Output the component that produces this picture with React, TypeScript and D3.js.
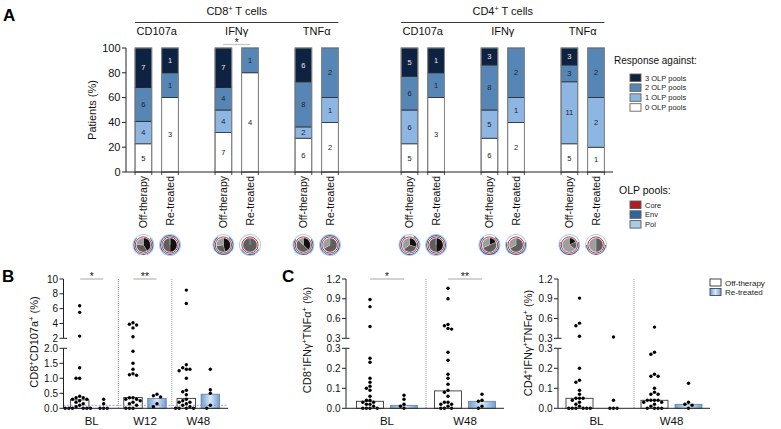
import React from "react";
import * as d3 from "d3";

const FONT = "'Liberation Sans', Arial, Helvetica, sans-serif";

// ---------- Panel A data ----------
const cellTypes = ["CD8^+ T cells", "CD4^+ T cells"];
const markers = ["CD107a", "IFNγ", "TNFα"];
const conditions = ["Off-therapy", "Re-treated"];
const poolLegend = ["3 OLP pools", "2 OLP pools", "1 OLP pools", "0 OLP pools"];
// colour per number of pools: index 0..3 pools
const poolColors = ["#ffffff", "#8db6e2", "#5686b6", "#0e2341"];
// counts per bar: [0 pools, 1 pool, 2 pools, 3 pools]; order marker x condition
const cd8Counts = [
  [5, 4, 6, 7], [3, 0, 1, 1],
  [7, 4, 4, 7], [4, 0, 1, 0],
  [6, 2, 8, 6], [2, 1, 2, 0],
];
const cd4Counts = [
  [5, 6, 6, 5], [3, 0, 1, 1],
  [6, 5, 8, 3], [2, 1, 2, 0],
  [5, 11, 3, 3], [1, 2, 2, 0],
];
const yTicksA = [0, 20, 40, 60, 80, 100];
const pieColors = ["#111111", "#5e5e5e", "#9d9d9d"]; // 3, 2, 1 pools
const olpPools = ["Core", "Env", "Pol"];
const olpColors = ["#b01c22", "#2f64a0", "#a9cbe8"];
// fraction of ring covered (Env, Pol) per pie
const cd8EnvArc = [0.75, 1, 0.8, 0.35, 0.7, 1];
const cd8PolArc = [0.9, 1, 0.7, 1, 0.8, 1];
const cd4EnvArc = [0.85, 1, 0.8, 0.6, 0.6, 0.5];
const cd4PolArc = [1, 1, 0.9, 0.8, 0.7, 0.6];

// ---------- Panel B data ----------
const timepointsB = ["BL", "W12", "W48"];
const bOffDots = [
  [6.4, 5.5, 2.3, 1.35, 1.0, 1.0, 0.4, 0.35, 0.35, 0.3, 0.3, 0.25, 0.2, 0.15, 0.1, 0.05, 0, 0, 0, 0, 0, 0],
  [4.1, 3.9, 3.8, 3.4, 2.2, 1.9, 1.5, 1.3, 1.15, 1.12, 1.1, 0.35, 0.35, 0.3, 0.3, 0.25, 0.2, 0.15, 0.1, 0, 0, 0],
  [8.5, 6.7, 1.45, 1.35, 1.3, 1.3, 1.25, 1.0, 0.6, 0.55, 0.45, 0.3, 0.25, 0.2, 0.2, 0.15, 0.1, 0.05, 0, 0, 0, 0],
];
const bReDots = [
  [0.3, 0.15, 0, 0, 0],
  [0.47, 0.42, 0.38, 0.15, 0.05],
  [1.3, 0.62, 0.5, 0.1, 0],
];
const bOffBars = [0.28, 0.36, 0.33];
const bReBars = [0, 0.33, 0.47];
const bLowerTicks = [0, 0.5, 1.0, 1.5, 2.0];
const bUpperTicks = [2, 4, 6, 8, 10];

// ---------- Panel C data ----------
const timepointsC = ["BL", "W48"];
const cd8OffDots = [
  [0.89, 0.78, 0.48, 0.25, 0.23, 0.15, 0.13, 0.11, 0.1, 0.09, 0.06, 0.04, 0.04, 0.03, 0.03, 0.02, 0.02, 0.01, 0, 0, 0, 0],
  [1.06, 0.9, 0.51, 0.49, 0.45, 0.44, 0.28, 0.24, 0.17, 0.15, 0.12, 0.09, 0.08, 0.06, 0.03, 0.03, 0.02, 0.02, 0.01, 0, 0, 0],
];
const cd8ReDots = [
  [0.065, 0.045, 0.02, 0.01, 0],
  [0.07, 0.04, 0.035, 0.01, 0],
];
const cd8OffBars = [0.035, 0.087];
const cd8ReBars = [0.015, 0.035];
const cd4OffDots = [
  [0.91, 0.53, 0.49, 0.33, 0.2, 0.14, 0.13, 0.09, 0.07, 0.05, 0.05, 0.05, 0.04, 0.03, 0.02, 0.01, 0, 0, 0, 0, 0, 0],
  [0.47, 0.28, 0.27, 0.17, 0.16, 0.16, 0.1, 0.08, 0.07, 0.07, 0.04, 0.04, 0.04, 0.04, 0.03, 0.03, 0.02, 0.01, 0, 0, 0, 0],
];
const cd4ReDots = [
  [0.32, 0.04, 0, 0, 0],
  [0.125, 0.03, 0.02, 0.015, 0],
];
const cd4OffBars = [0.05, 0.04];
const cd4ReBars = [0, 0.02];
const cLowerTicks = [0, 0.1, 0.2, 0.3];
const cUpperTicks = [0.3, 0.6, 0.9, 1.2];

// ---------- helpers ----------
function SupText({ s, sup = 7, shift = 4 }: { s: string; sup?: number; shift?: number }) {
  const parts = s.split("^+");
  const nodes: React.ReactNode[] = [];
  parts.forEach((p, i) => {
    if (p.length) nodes.push(<tspan key={"p" + i} dy={i > 0 ? shift : 0}>{p}</tspan>);
    if (i < parts.length - 1)
      nodes.push(
        <tspan key={"s" + i} dy={i > 0 && !p.length ? 0 : -shift} fontSize={sup}>+</tspan>
      );
  });
  return <>{nodes}</>;
}

function layoutDots(vals: number[], y: (v: number) => number, cx: number) {
  const placed: { x: number; y: number }[] = [];
  const sorted = [...vals].sort((a, b) => b - a);
  const step = 3.6;
  sorted.forEach((v) => {
    const py = y(v);
    let k = 0;
    for (;;) {
      const m = Math.ceil(k / 2);
      const off = k === 0 ? 0 : (k % 2 === 1 ? -m : m) * step;
      const px = cx + off;
      const hit = placed.some((p) => Math.abs(p.y - py) < 3.3 && Math.abs(p.x - px) < 3.3);
      if (!hit || k > 14) {
        placed.push({ x: px, y: py });
        break;
      }
      k++;
    }
  });
  return placed;
}

function brokenScale(brk: number, max: number) {
  const lo = d3.scaleLinear().domain([0, brk]).range([408.3, 348.3]);
  const hi = d3.scaleLinear().domain([brk, max]).range([338.3, 279]);
  const f = (v: number) => (v <= brk ? lo(v) : hi(v));
  return { f, lo, hi };
}

type DotPanelProps = {
  axisX: number;
  xRange: [number, number];
  axisEnd: number;
  cats: string[];
  offDots: number[][];
  reDots: number[][];
  offBars: number[];
  reBars: number[];
  barW: number;
  off: number;
  brk: number;
  max: number;
  lowerTicks: number[];
  upperTicks: number[];
  lowerFmt: string;
  upperFmt: string;
  yLabel: string;
  yLabelX: number;
  yLabelY: number;
  sepStyles: { stroke: string; width: number }[];
  sig: { cat: string; text: string; half: number }[];
  dashedAt?: number;
};

function DotPanel(p: DotPanelProps) {
  const { f, lo, hi } = brokenScale(p.brk, p.max);
  const x = d3.scaleBand().domain(p.cats).range(p.xRange);
  const cx = (c: string) => (x(c) as number) + x.bandwidth() / 2;
  const baseY = lo(0);
  const lf = d3.format(p.lowerFmt);
  const uf = d3.format(p.upperFmt);
  return (
    <g fontFamily={FONT}>
      {/* separators */}
      {p.cats.slice(1).map((c, i) => (
        <line key={"sep" + i} x1={x(c) as number} x2={x(c) as number} y1={hi(p.max)} y2={baseY}
          stroke={p.sepStyles[i].stroke} strokeWidth={p.sepStyles[i].width} strokeDasharray="1,1" />
      ))}
      {/* bars */}
      {p.cats.map((c, i) => (
        <g key={"bars" + c}>
          {p.offBars[i] > 0 && (
            <rect x={cx(c) - p.off - p.barW / 2} y={f(p.offBars[i])} width={p.barW}
              height={baseY - f(p.offBars[i])} fill="#fff" stroke="#3a3a3a" strokeWidth={0.9} />
          )}
          {p.reBars[i] > 0 && (
            <rect x={cx(c) + p.off - p.barW / 2} y={f(p.reBars[i])} width={p.barW}
              height={baseY - f(p.reBars[i])} fill="url(#reGrad)" stroke="#6d7f94" strokeWidth={0.8} />
          )}
        </g>
      ))}
      {p.dashedAt !== undefined && (
        <line x1={p.axisX} x2={p.axisEnd} y1={f(p.dashedAt)} y2={f(p.dashedAt)}
          stroke="#8a8ad2" strokeWidth={0.8} strokeDasharray="2,1.5" />
      )}
      {/* dots */}
      {p.cats.map((c, i) => (
        <g key={"dots" + c}>
          {layoutDots(p.offDots[i], f, cx(c) - p.off).map((d, j) => (
            <circle key={"o" + j} cx={d.x} cy={d.y} r={1.7} fill="#000" />
          ))}
          {layoutDots(p.reDots[i], f, cx(c) + p.off).map((d, j) => (
            <circle key={"r" + j} cx={d.x} cy={d.y} r={1.7} fill="#000" />
          ))}
        </g>
      ))}
      {/* x axis */}
      <line x1={p.axisX} x2={p.axisEnd} y1={baseY} y2={baseY} stroke="#222" strokeWidth={1} />
      {p.cats.map((c) => (
        <text key={"xl" + c} x={cx(c)} y={425} fontSize={11.5} textAnchor="middle" fill="#111">{c}</text>
      ))}
      {/* y axis lower */}
      <line x1={p.axisX} x2={p.axisX} y1={baseY} y2={lo(p.brk)} stroke="#222" strokeWidth={1} />
      <line x1={p.axisX} x2={p.axisX + 3.5} y1={lo(p.brk)} y2={lo(p.brk)} stroke="#222" strokeWidth={1} />
      {p.lowerTicks.map((t) => (
        <g key={"lt" + t}>
          <line x1={p.axisX - 4} x2={p.axisX} y1={lo(t)} y2={lo(t)} stroke="#222" strokeWidth={1} />
          <text x={p.axisX - 5.5} y={lo(t) + 3.6} fontSize={10} textAnchor="end" fill="#111">{lf(t)}</text>
        </g>
      ))}
      {/* y axis upper */}
      <line x1={p.axisX} x2={p.axisX} y1={hi(p.brk)} y2={hi(p.max)} stroke="#222" strokeWidth={1} />
      <line x1={p.axisX} x2={p.axisX + 3.5} y1={hi(p.brk)} y2={hi(p.brk)} stroke="#222" strokeWidth={1} />
      {p.upperTicks.map((t) => (
        <g key={"ut" + t}>
          <line x1={p.axisX - 4} x2={p.axisX} y1={hi(t)} y2={hi(t)} stroke="#222" strokeWidth={1} />
          <text x={p.axisX - 5.5} y={hi(t) + 3.6} fontSize={10} textAnchor="end" fill="#111">{uf(t)}</text>
        </g>
      ))}
      <text transform={`translate(${p.yLabelX},${p.yLabelY}) rotate(-90)`} fontSize={11} textAnchor="middle" fill="#111">
        <SupText s={p.yLabel} sup={7.5} shift={4} />
      </text>
      {/* significance */}
      {p.sig.map((s) => (
        <g key={"sig" + s.cat}>
          <line x1={cx(s.cat) - s.half} x2={cx(s.cat) + s.half} y1={279} y2={279} stroke="#c4c4c4" strokeWidth={1.5} />
          <text x={cx(s.cat)} y={279.5} fontSize={10} textAnchor="middle" fill="#111">{s.text}</text>
        </g>
      ))}
    </g>
  );
}

export default function App() {
  // ---- Panel A scales ----
  const yA = d3.scaleLinear().domain([0, 100]).range([172, 48]);
  const groupScales = [
    d3.scalePoint().domain(markers).range([156.7, 316.7]),
    d3.scalePoint().domain(markers).range([422.8, 582.7]),
  ];
  const condOff = d3.scalePoint().domain(conditions).range([-13.3, 13.3]);
  const barWA = 16.7;
  const countsByCell = [cd8Counts, cd4Counts];
  const envByCell = [cd8EnvArc, cd4EnvArc];
  const polByCell = [cd8PolArc, cd4PolArc];
  const pie = d3.pie<number>().sort(null).value((d) => d);
  const pieArc = d3.arc<d3.PieArcDatum<number>>().innerRadius(0).outerRadius(7);
  const ringArc = d3.arc<any>();
  const pieY = 245;

  const bars: React.ReactNode[] = [];
  const xlabels: React.ReactNode[] = [];
  const pies: React.ReactNode[] = [];
  const axisTicks: React.ReactNode[] = [];

  countsByCell.forEach((counts, ci) => {
    markers.forEach((m, mi) => {
      conditions.forEach((cond, ki) => {
        const idx = mi * 2 + ki;
        const c = counts[idx];
        const total = d3.sum(c);
        const bx = (groupScales[ci](m) as number) + (condOff(cond) as number);
        let cum = 0;
        const segs: React.ReactNode[] = [];
        c.forEach((n, k) => {
          if (n === 0) return;
          const y0 = yA((cum / total) * 100);
          cum += n;
          const y1 = yA((cum / total) * 100);
          segs.push(
            <g key={k}>
              <rect x={bx - barWA / 2} y={y1} width={barWA} height={y0 - y1}
                fill={poolColors[k]} stroke="#1e1e1e" strokeWidth={0.7} />
              <text x={bx} y={(y0 + y1) / 2 + 2.6} fontSize={7.5} textAnchor="middle"
                fill={k === 3 ? "#e8e8e8" : "#222"}>{n}</text>
            </g>
          );
        });
        bars.push(
          <g key={`bar-${ci}-${idx}`}>
            {segs}
            <rect x={bx - barWA / 2} y={yA(100)} width={barWA} height={yA(0) - yA(100)}
              fill="none" stroke="#8c8c8c" strokeWidth={1} />
          </g>
        );
        axisTicks.push(
          <g key={`tk-${ci}-${idx}`}>
            <line x1={bx - barWA / 2} x2={bx - barWA / 2} y1={172} y2={175} stroke="#222" strokeWidth={0.8} />
            <line x1={bx + barWA / 2} x2={bx + barWA / 2} y1={172} y2={175} stroke="#222" strokeWidth={0.8} />
          </g>
        );
        xlabels.push(
          <text key={`xl-${ci}-${idx}`} transform={`translate(${bx + 3.8},176) rotate(-90)`}
            fontSize={10.5} textAnchor="end" fill="#111">{cond}</text>
        );
        const resp = [c[3], c[2], c[1]];
        const arcs = pie(resp);
        const env = envByCell[ci][idx];
        const pol = polByCell[ci][idx];
        pies.push(
          <g key={`pie-${ci}-${idx}`} transform={`translate(${bx},${pieY})`}>
            <path d={ringArc({ innerRadius: 10.1, outerRadius: 11, startAngle: -Math.PI * pol, endAngle: Math.PI * pol }) as string}
              fill={olpColors[2]} />
            <path d={ringArc({ innerRadius: 9.1, outerRadius: 10, startAngle: Math.PI - Math.PI * env, endAngle: Math.PI + Math.PI * env }) as string}
              fill={olpColors[1]} />
            <circle r={8.4} fill="#fff" />
            <circle r={8.1} fill="none" stroke={olpColors[0]} strokeWidth={0.9} />
            {arcs.map((a, j) => (
              <path key={j} d={pieArc(a) as string} fill={pieColors[j]} stroke="#fff" strokeWidth={0.2} />
            ))}
          </g>
        );
      });
    });
  });

  return (
    <svg width={781} height={429} style={{ position: "absolute", left: 0, top: 0, background: "#fff" }}
      fontFamily={FONT}>
      <defs>
        <linearGradient id="reGrad" x1="0" x2="1" y1="0" y2="0">
          <stop offset="0" stopColor="#6e9ed6" />
          <stop offset="0.5" stopColor="#d9e8f7" />
          <stop offset="1" stopColor="#6e9ed6" />
        </linearGradient>
      </defs>
      <rect width={781} height={429} fill="#fff" />

      {/* ===== Panel A ===== */}
      <text x={3} y={21} fontSize={17} fontWeight="bold" fill="#000">A</text>
      {cellTypes.map((ct, ci) => {
        const g = groupScales[ci];
        const x0 = (g(markers[0]) as number) - 13.3 - barWA / 2;
        const x1 = (g(markers[2]) as number) + 13.3 + barWA / 2;
        return (
          <g key={ct}>
            <text x={(x0 + x1) / 2} y={15} fontSize={11} textAnchor="middle" fill="#111">
              <SupText s={ct} sup={7} shift={4} />
            </text>
            <line x1={x0} x2={x1} y1={22.5} y2={22.5} stroke="#222" strokeWidth={0.9} />
            {markers.map((m) => (
              <text key={m} x={g(m) as number} y={35} fontSize={11} textAnchor="middle" fill="#111">{m}</text>
            ))}
          </g>
        );
      })}
      {/* significance IFNγ CD8 */}
      <line x1={(groupScales[0]("IFNγ") as number) - 13.5} x2={(groupScales[0]("IFNγ") as number) + 13.5}
        y1={44.5} y2={44.5} stroke="#c4c4c4" strokeWidth={1.2} />
      <text x={groupScales[0]("IFNγ") as number} y={45.5} fontSize={10} textAnchor="middle" fill="#111">*</text>

      {/* y axis */}
      <line x1={126} x2={126} y1={yA(0)} y2={yA(100)} stroke="#222" strokeWidth={1} />
      {yTicksA.map((t) => (
        <g key={t}>
          <line x1={122} x2={126} y1={yA(t)} y2={yA(t)} stroke="#222" strokeWidth={1} />
          <text x={120.5} y={yA(t) + 3.8} fontSize={11} textAnchor="end" fill="#111">{t}</text>
        </g>
      ))}
      <text transform={`translate(96,110) rotate(-90)`} fontSize={11} textAnchor="middle" fill="#111">Patients (%)</text>
      {bars}
      <line x1={126} x2={613} y1={172} y2={172} stroke="#222" strokeWidth={1} />
      {axisTicks}
      {xlabels}
      {pies}

      {/* legend: response */}
      <text x={614} y={64} fontSize={10} fill="#111">Response against:</text>
      {poolLegend.map((l, i) => (
        <g key={l}>
          <rect x={630} y={74 + i * 9.9} width={11} height={7.5} fill={poolColors[3 - i]} stroke="#6b6452" strokeWidth={0.9} />
          <text x={645} y={80.5 + i * 9.9} fontSize={7.5} fill="#222">{l}</text>
        </g>
      ))}
      {/* legend: OLP pools */}
      <text x={619} y={194} fontSize={10.5} fill="#111">OLP pools:</text>
      {olpPools.map((l, i) => (
        <g key={l}>
          <rect x={630} y={201 + i * 9.8} width={11} height={7.5} fill={olpColors[i]} stroke="#5a5a5a" strokeWidth={0.9} />
          <text x={645} y={207.5 + i * 9.8} fontSize={7.5} fill="#222">{l}</text>
        </g>
      ))}

      {/* ===== Panel B ===== */}
      <text x={2} y={282} fontSize={17} fontWeight="bold" fill="#000">B</text>
      <DotPanel axisX={63.5} xRange={[65, 225]} axisEnd={228} cats={timepointsB}
        offDots={bOffDots} reDots={bReDots} offBars={bOffBars} reBars={bReBars}
        barW={18.5} off={12} brk={2} max={10} lowerTicks={bLowerTicks} upperTicks={bUpperTicks}
        lowerFmt=".1f" upperFmt="d" yLabel="CD8^+CD107a^+ (%)" yLabelX={38} yLabelY={342}
        sepStyles={[{ stroke: "#666", width: 0.8 }, { stroke: "#c2c2c2", width: 1.6 }]}
        sig={[{ cat: "BL", text: "*", half: 11.5 }, { cat: "W12", text: "**", half: 11.5 }]}
        dashedAt={0.1} />

      {/* ===== Panel C ===== */}
      <text x={282} y={282} fontSize={17} fontWeight="bold" fill="#000">C</text>
      <DotPanel axisX={346} xRange={[348, 504]} axisEnd={504} cats={timepointsC}
        offDots={cd8OffDots} reDots={cd8ReDots} offBars={cd8OffBars} reBars={cd8ReBars}
        barW={27} off={17} brk={0.3} max={1.2} lowerTicks={cLowerTicks} upperTicks={cUpperTicks}
        lowerFmt=".1f" upperFmt=".1f" yLabel="CD8^+IFNγ^+TNFα^+ (%)" yLabelX={311} yLabelY={340}
        sepStyles={[{ stroke: "#777", width: 0.8 }]}
        sig={[{ cat: "BL", text: "*", half: 17 }, { cat: "W48", text: "**", half: 17 }]} />
      <DotPanel axisX={558} xRange={[559, 709]} axisEnd={710} cats={timepointsC}
        offDots={cd4OffDots} reDots={cd4ReDots} offBars={cd4OffBars} reBars={cd4ReBars}
        barW={27} off={17} brk={0.3} max={1.2} lowerTicks={cLowerTicks} upperTicks={cUpperTicks}
        lowerFmt=".1f" upperFmt=".1f" yLabel="CD4^+IFNγ^+TNFα^+ (%)" yLabelX={532} yLabelY={343}
        sepStyles={[{ stroke: "#c2c2c2", width: 1.6 }]}
        sig={[]} />

      {/* legend C */}
      <rect x={710} y={279} width={11} height={7} fill="#fff" stroke="#333" strokeWidth={0.9} />
      <text x={725} y={285.5} fontSize={8} fill="#222">Off-therapy</text>
      <rect x={710} y={288.5} width={11} height={7} fill="url(#reGrad)" stroke="#445" strokeWidth={0.9} />
      <text x={725} y={295} fontSize={8} fill="#222">Re-treated</text>
    </svg>
  );
}
